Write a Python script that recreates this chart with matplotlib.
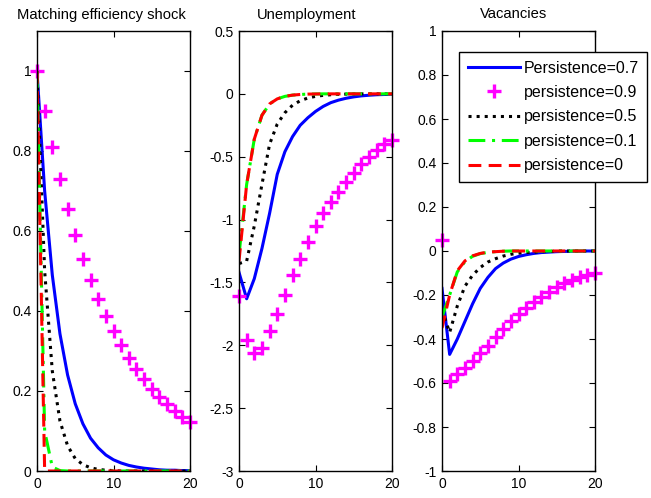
import matplotlib
matplotlib.use("Agg")
import matplotlib.pyplot as plt
from matplotlib.ticker import FuncFormatter

plt.rcParams['font.family'] = ['Liberation Sans', 'DejaVu Sans']
plt.rcParams['axes.unicode_minus'] = False

# horizonte
t = list(range(21))

labels = ['Persistence=0.7', 'persistence=0.9', 'persistence=0.5',
          'persistence=0.1', 'persistence=0']

# shock de eficiencia de matching
shock_07 = [1, .7, .49, .343, .24, .168, .118, .082, .058, .04, .028, .02,
            .014, .01, .007, .005, .003, .002, .002, .001, .001]
shock_09 = [1, .9, .81, .729, .656, .59, .531, .478, .43, .387, .349, .314,
            .282, .254, .229, .206, .185, .167, .15, .135, .122]
shock_05 = [1, .5, .25, .125, .063, .031, .016, .008, .004, .002, .001, 0,
            0, 0, 0, 0, 0, 0, 0, 0, 0]
shock_01 = [1, .1, .01, .001, 0, 0, 0, 0, 0, 0, 0, 0, 0, 0, 0, 0, 0, 0, 0, 0, 0]
shock_00 = [1, 0, 0, 0, 0, 0, 0, 0, 0, 0, 0, 0, 0, 0, 0, 0, 0, 0, 0, 0, 0]

# desempleo
u_07 = [-1.42, -1.63, -1.47, -1.23, -0.95, -0.64, -0.46, -0.34, -0.25, -0.19,
        -0.14, -0.10, -0.07, -0.05, -0.035, -0.024, -0.016, -0.011, -0.007,
        -0.005, -0.003]
u_09 = [-1.61, -1.96, -2.06, -2.02, -1.89, -1.75, -1.60, -1.44, -1.31, -1.18,
        -1.05, -0.95, -0.86, -0.78, -0.70, -0.63, -0.56, -0.50, -0.45, -0.40,
        -0.37]
u_05 = [-1.35, -1.33, -1.05, -0.72, -0.40, -0.24, -0.15, -0.09, -0.055,
        -0.033, -0.02, -0.012, -0.007, -0.004, -0.002, -0.001, 0, 0, 0, 0, 0]
u_01 = [-1.28, -0.72, -0.36, -0.17, -0.08, -0.04, -0.02, -0.01, -0.005,
        -0.002, -0.001, 0, 0, 0, 0, 0, 0, 0, 0, 0, 0]
u_00 = [-1.33, -0.72, -0.36, -0.17, -0.08, -0.04, -0.02, -0.01, -0.005,
        -0.002, -0.001, 0, 0, 0, 0, 0, 0, 0, 0, 0, 0]

# vacantes
v_07 = [-0.17, -0.47, -0.40, -0.32, -0.24, -0.17, -0.12, -0.08, -0.055,
        -0.037, -0.025, -0.017, -0.011, -0.007, -0.005, -0.003, -0.002,
        -0.001, -0.001, 0, 0]
v_09 = [0.05, -0.59, -0.56, -0.53, -0.50, -0.465, -0.43, -0.39, -0.355,
        -0.32, -0.285, -0.257, -0.232, -0.208, -0.186, -0.165, -0.147,
        -0.132, -0.118, -0.107, -0.098]
v_05 = [-0.27, -0.37, -0.25, -0.16, -0.11, -0.075, -0.05, -0.035, -0.023,
        -0.015, -0.01, -0.007, -0.005, -0.003, -0.002, -0.001, 0, 0, 0, 0, 0]
v_01 = [-0.30, -0.20, -0.095, -0.048, -0.024, -0.012, -0.006, -0.003,
        -0.001, 0, 0, 0, 0, 0, 0, 0, 0, 0, 0, 0, 0]
v_00 = [-0.35, -0.20, -0.09, -0.045, -0.022, -0.011, -0.005, -0.003,
        -0.001, 0, 0, 0, 0, 0, 0, 0, 0, 0, 0, 0, 0]

paneles = [
    ('Matching efficiency shock', [shock_07, shock_09, shock_05, shock_01, shock_00],
     (0, 1.1), [0, 0.2, 0.4, 0.6, 0.8, 1], 0.418),
    ('Unemployment', [u_07, u_09, u_05, u_01, u_00],
     (-3, 0.5), [-3, -2.5, -2, -1.5, -1, -0.5, 0, 0.5], 0.441),
    ('Vacancies', [v_07, v_09, v_05, v_01, v_00],
     (-1, 1), [-1, -0.8, -0.6, -0.4, -0.2, 0, 0.2, 0.4, 0.6, 0.8, 1], 0.467),
]

fig = plt.figure(figsize=(6.51, 4.98), dpi=100)
lefts = [37 / 651, 239 / 651, 442 / 651]
lw = 2.2
handles = []
for i, (titulo, series, ylim, yticks, xt) in enumerate(paneles):
    ax = fig.add_axes([lefts[i], 1 - 471 / 498, 153 / 651, 440 / 498])
    s07, s09, s05, s01, s00 = series
    h1, = ax.plot(t, s07, color='#0000ff', lw=lw, ls='-')
    h2, = ax.plot(t, s09, color='#ff00ff', ls='none', marker='+',
                  markersize=10, markeredgewidth=2.4, clip_on=False)
    h3, = ax.plot(t, s05, color='black', lw=lw, ls=(0, (1, 1.65)))
    h4, = ax.plot(t, s01, color='#00ff00', lw=lw, ls=(0, (5.5, 2.2, 1, 2.2)))
    h5, = ax.plot(t, s00, color='#ff0000', lw=lw, ls=(0, (4.2, 2.4)))
    handles = [h1, h2, h3, h4, h5]
    ax.set_xlim(0, 20)
    ax.set_ylim(*ylim)
    ax.set_xticks([0, 10, 20])
    ax.set_yticks(yticks)
    ax.yaxis.set_major_formatter(FuncFormatter(lambda v, p: '%g' % round(v, 2)))
    ax.tick_params(direction='in', top=True, right=True, length=4,
                   width=0.8, labelsize=10, pad=4)
    for sp in ax.spines.values():
        sp.set_linewidth(1.0)
    ax.set_title(titulo, fontsize=10.6, pad=9, x=xt)

fig.legend(handles, labels, loc='upper left',
           bbox_to_anchor=(459 / 651, 1 - 52 / 498),
           fontsize=11.5, frameon=True, fancybox=False, framealpha=1,
           edgecolor='black', handlelength=3.3, handletextpad=0.2,
           labelspacing=0.59, borderpad=0.54, borderaxespad=0)
fig.legends[0].get_frame().set_linewidth(1.0)

plt.savefig('out.png', dpi=100)
